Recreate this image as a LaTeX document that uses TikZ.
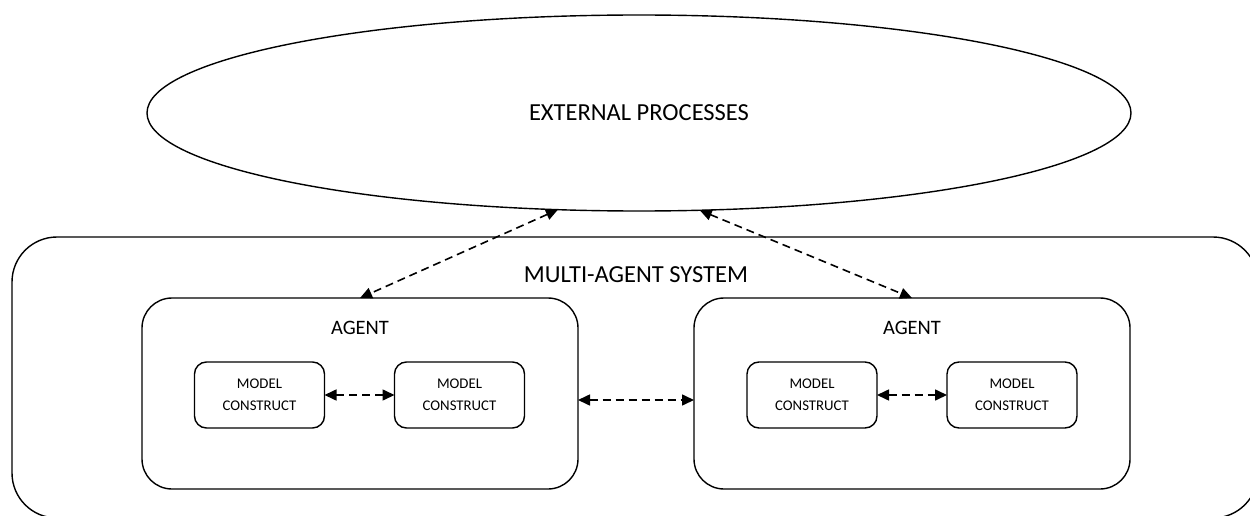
\documentclass[tikz,border=0pt]{standalone}
\usepackage{fontspec}
\setmainfont{Carlito}
\usetikzlibrary{shapes.geometric,arrows.meta}
\begin{document}
\begin{tikzpicture}[x=1pt,y=-1pt,
  every node/.style={inner sep=0pt, outer sep=0pt},
  line/.style={draw=black, line width=1.4pt},
  outerbox/.style={line, rectangle, rounded corners=45pt, minimum width=1246pt, minimum height=281pt},
  agentbox/.style={line, rectangle, rounded corners=30pt, minimum width=436pt, minimum height=191pt},
  modelbox/.style={line, rectangle, rounded corners=12pt, minimum width=130pt, minimum height=66pt, align=center, font=\fontsize{14.8}{22}\selectfont},
  biglabel/.style={font=\fontsize{24.5}{28}\selectfont},
  agentlabel/.style={font=\fontsize{20.5}{24}\selectfont},
  arr/.style={line width=1.6pt, dash pattern=on 8pt off 5pt, {Triangle[length=12pt,width=11pt]}-{Triangle[length=12pt,width=11pt]}}
]
\useasboundingbox (0,0) rectangle (1250,516);
\begin{scope}
\clip (0,0) rectangle (1250,516);
\node[outerbox] (mas) at (635,377.5) {};
\end{scope}
\node[line, ellipse, minimum width=984pt, minimum height=196pt] (ext) at (639,113) {};
\node[biglabel] (extlabel) at (639,113) {EXTERNAL PROCESSES};
\node[biglabel] (maslabel) at (636,275) {MULTI-AGENT SYSTEM};

\node[agentbox] (agL) at (360,393.5) {};
\node[agentbox] (agR) at (912,393.5) {};
\node[agentlabel] (agLlabel) at (360,328) {AGENT};
\node[agentlabel] (agRlabel) at (912,328) {AGENT};

\node[modelbox] (m1) at (259.5,395) {MODEL\\CONSTRUCT};
\node[modelbox] (m2) at (459.5,395) {MODEL\\CONSTRUCT};
\node[modelbox] (m3) at (812,395) {MODEL\\CONSTRUCT};
\node[modelbox] (m4) at (1012,395) {MODEL\\CONSTRUCT};

\draw[arr] (m1.east) -- (m2.west);
\draw[arr] (m3.east) -- (m4.west);
\draw[arr] (agL.east |- 0,400) -- (agR.west |- 0,400);
\draw[arr] (ext.230.8) -- (agL.north);
\draw[arr] (ext.302) -- (agR.north);
\end{tikzpicture}
\end{document}
